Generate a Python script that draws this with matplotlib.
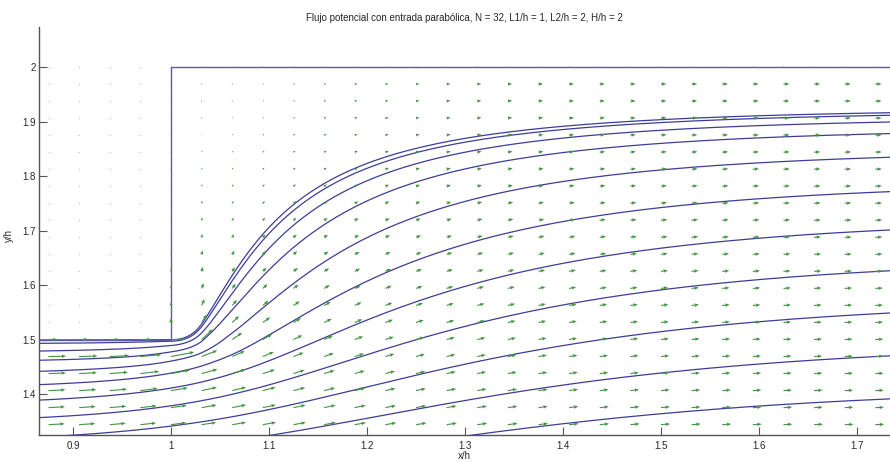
import numpy as np
import matplotlib
matplotlib.use("Agg")
import matplotlib.pyplot as plt

# ---------------------------------------------------------------------------
# Problem parameters (all lengths scaled by the inlet height h)
# ---------------------------------------------------------------------------
N = 32        # grid cells per h
L1 = 1.0      # inlet channel length
L2 = 2.0      # outlet channel length
H = 2.0       # outlet channel height
jacobi_sweeps = 1000   # iterations of the Jacobi relaxation

title_text = "Flujo potencial con entrada parabólica, N = 32, L1/h = 1, L2/h = 2, H/h = 2"
x_label = "x/h"
y_label = "y/h"

x_ticks = [0.9, 1.0, 1.1, 1.2, 1.3, 1.4, 1.5, 1.6, 1.7]
x_tick_labels = ["0.9", "1", "1.1", "1.2", "1.3", "1.4", "1.5", "1.6", "1.7"]
y_ticks = [1.4, 1.5, 1.6, 1.7, 1.8, 1.9, 2.0]
y_tick_labels = ["1.4", "1.5", "1.6", "1.7", "1.8", "1.9", "2"]
x_view = (0.8653, 1.7337)
y_view = (1.3248, 2.0734)

# ---------------------------------------------------------------------------
# Stream function on the grid (sudden expansion, inlet centred in the outlet)
# ---------------------------------------------------------------------------
h = 1.0 / N
nx = int(round((L1 + L2) * N)) + 1
ny = int(round(H * N)) + 1
x = np.linspace(0.0, L1 + L2, nx)
y = np.linspace(0.0, H, ny)
X, Y = np.meshgrid(x, y)

y_lo = (H - 1.0) / 2.0
y_hi = (H + 1.0) / 2.0
tol = 1e-9


def parabolic_stream(eta):
    """Normalised stream function of a parabolic (Poiseuille) profile."""
    eta = np.clip(eta, 0.0, 1.0)
    return 3.0 * eta ** 2 - 2.0 * eta ** 3


solid_top = (X <= L1 + tol) & (Y >= y_hi - tol)
solid_bot = (X <= L1 + tol) & (Y <= y_lo + tol)
solid = solid_top | solid_bot
inlet_walls = (X <= L1 + tol) & ((np.abs(Y - y_hi) < tol) | (np.abs(Y - y_lo) < tol))

# start from the inlet jet carried straight through the domain
psi = parabolic_stream(Y - y_lo)
psi[:, 0] = parabolic_stream(y - y_lo)
psi[solid_top] = 1.0
psi[solid_bot] = 0.0
psi[-1, :] = 1.0
psi[0, :] = 0.0

interior = ~solid
interior[0, :] = False
interior[-1, :] = False
interior[:, 0] = False

for _ in range(jacobi_sweeps):
    nb = np.zeros_like(psi)
    nb[:, 1:-1] = psi[:, :-2] + psi[:, 2:]
    nb[:, -1] = 2.0 * psi[:, -2]              # zero-gradient outlet
    nb[1:-1, :] += psi[:-2, :] + psi[2:, :]
    psi = np.where(interior, 0.25 * nb, psi)

dpsi_dy, dpsi_dx = np.gradient(psi, h)
u = dpsi_dy
v = -dpsi_dx
u[0, :] = 0.0
u[-1, :] = 0.0
v[0, :] = 0.0
v[-1, :] = 0.0
v[inlet_walls] = 0.0          # no flow through the inlet channel walls
speed = np.hypot(u, v)


# ---------------------------------------------------------------------------
# Streamlines: fixed-step tracing through the bilinearly interpolated field
# ---------------------------------------------------------------------------
def trace_streamline(x0, y0, step=0.1, max_vert=10000):
    gx, gy = x0 / h, y0 / h
    xs, ys = [x0], [y0]
    for _ in range(max_vert):
        if gx < 0 or gy < 0 or gx > nx - 1 or gy > ny - 1:
            break
        i = min(int(gx), nx - 2)
        j = min(int(gy), ny - 2)
        fx, fy = gx - i, gy - j
        w00 = (1 - fx) * (1 - fy)
        w10 = fx * (1 - fy)
        w01 = (1 - fx) * fy
        w11 = fx * fy
        ui = (w00 * u[j, i] + w10 * u[j, i + 1] +
              w01 * u[j + 1, i] + w11 * u[j + 1, i + 1])
        vi = (w00 * v[j, i] + w10 * v[j, i + 1] +
              w01 * v[j + 1, i] + w11 * v[j + 1, i + 1])
        big = max(abs(ui), abs(vi))
        if big < 1e-12:
            break
        gx += step * ui / big
        gy += step * vi / big
        xs.append(gx * h)
        ys.append(gy * h)
    return np.array(xs), np.array(ys)


# release points equally spaced across the inlet
start_heights = y_lo + np.arange(1, N) / N
streamlines = [trace_streamline(0.0, y0) for y0 in start_heights]

arrow_scale = 0.016

# ---------------------------------------------------------------------------
# Figure
# ---------------------------------------------------------------------------
plt.rcParams["font.family"] = ["Liberation Sans", "DejaVu Sans"]
fig = plt.figure(figsize=(8.9, 4.62), dpi=100)
ax = fig.add_axes([39 / 890, 1 - 435 / 462, 851 / 890, 408 / 462])
ax.set_xlim(*x_view)
ax.set_ylim(*y_view)

line_col = "#3d3d98"
wall_col = "#5a5aac"
arrow_col = "#449444"

# walls
ax.plot([x_view[0] - 1, L1, L1, L1 + L2], [y_hi, y_hi, H, H],
        color=wall_col, lw=1.0, zorder=3)

# streamlines
for sx, sy in streamlines:
    ax.plot(sx, sy, color=line_col, lw=0.9, zorder=2)

# velocity field
view = ((X >= x_view[0] - tol) & (X <= x_view[1]) &
        (Y >= y_view[0]) & (Y <= y_view[1]))
inside_wall = solid & (speed <= 1e-10)
moving = view & ~inside_wall
still = view & inside_wall
ax.quiver(X[moving], Y[moving], u[moving], v[moving],
          angles="xy", scale_units="xy", scale=1.0 / arrow_scale,
          color=arrow_col, width=0.0013, headwidth=3.2, headlength=4.0,
          headaxislength=3.6, zorder=4)
ax.scatter(X[still], Y[still], s=1.2, color="#c4cfc4", lw=0, zorder=1)

# axes styling
for side in ("top", "right"):
    ax.spines[side].set_visible(False)
for side in ("left", "bottom"):
    ax.spines[side].set_color("#555555")
    ax.spines[side].set_linewidth(1.0)
ax.set_xticks(x_ticks)
ax.set_xticklabels(x_tick_labels)
ax.set_yticks(y_ticks)
ax.set_yticklabels(y_tick_labels)
ax.tick_params(axis="both", direction="in", length=5.5, width=0.8,
               color="#555555", labelsize=7, labelcolor="#262626")
ax.tick_params(axis="x", pad=4)
ax.tick_params(axis="y", pad=2.2)

ax.set_xlabel(x_label, fontsize=7, color="#262626")
ax.xaxis.set_label_coords(0.5, -0.038)
ax.set_ylabel(y_label, fontsize=7, color="#262626")
ax.yaxis.set_label_coords(-0.03, 0.49)

fig.text(464 / 890, 1 - 18 / 462, title_text, ha="center", va="center",
         fontsize=7, color="#262626")

fig.savefig("out.png", dpi=100)
